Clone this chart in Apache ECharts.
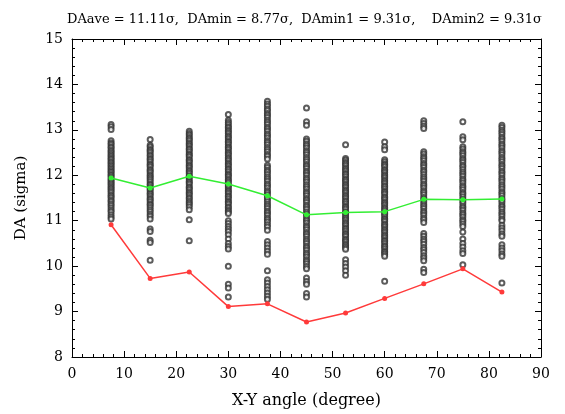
<!DOCTYPE html>
<html>
<head>
<meta charset="utf-8">
<script src="https://cdn.jsdelivr.net/npm/echarts@6/dist/echarts.min.js"></script>
<style>
  html, body { margin: 0; padding: 0; background: #fff; }
  #chart { width: 565px; height: 414px; }
</style>
</head>
<body>
<div id="chart"></div>
<script>
// X-Y angles (degrees) at which DA was sampled
const angles = [7.5, 15, 22.5, 30, 37.5, 45, 52.5, 60, 67.5, 75, 82.5];

// DA samples (sigma) at each angle
const da07_5 = [13.12, 13.07, 13.01, 12.76, 12.71, 12.68, 12.63, 12.6, 12.55, 12.52, 12.48, 12.44, 12.41, 12.37, 12.34, 12.3, 12.27, 12.23, 12.2, 12.16, 12.13, 12.09, 12.06, 12.02, 11.99, 11.95, 11.91, 11.88, 11.84, 11.81, 11.77, 11.73, 11.7, 11.66, 11.62, 11.57, 11.54, 11.5, 11.45, 11.42, 11.37, 11.33, 11.28, 11.23, 11.19, 11.13, 11.08, 11.04];
const da15 = [12.79, 12.66, 12.62, 12.57, 12.54, 12.5, 12.45, 12.42, 12.37, 12.34, 12.3, 12.25, 12.22, 12.18, 12.13, 12.1, 12.06, 12.01, 11.98, 11.94, 11.9, 11.86, 11.81, 11.78, 11.73, 11.7, 11.66, 11.61, 11.58, 11.54, 11.49, 11.46, 11.42, 11.37, 11.34, 11.29, 11.24, 11.2, 11.14, 11.1, 11.04, 10.82, 10.76, 10.57, 10.52, 10.13];
const da22_5 = [12.97, 12.92, 12.88, 12.83, 12.8, 12.76, 12.71, 12.68, 12.64, 12.59, 12.56, 12.52, 12.47, 12.44, 12.4, 12.35, 12.32, 12.28, 12.23, 12.2, 12.16, 12.11, 12.08, 12.04, 11.99, 11.96, 11.92, 11.87, 11.84, 11.8, 11.75, 11.72, 11.68, 11.63, 11.6, 11.56, 11.51, 11.48, 11.43, 11.39, 11.35, 11.3, 11.24, 11.02, 10.56];
const da30 = [13.34, 13.21, 13.16, 13.12, 13.07, 13.04, 12.99, 12.96, 12.92, 12.87, 12.84, 12.8, 12.75, 12.72, 12.68, 12.63, 12.6, 12.56, 12.51, 12.48, 12.44, 12.39, 12.36, 12.32, 12.27, 12.24, 12.2, 12.15, 12.12, 12.08, 12.03, 12.0, 11.96, 11.91, 11.88, 11.84, 11.79, 11.76, 11.72, 11.67, 11.64, 11.6, 11.55, 11.52, 11.48, 11.43, 11.4, 11.36, 11.31, 11.28, 11.23, 11.2, 11.16, 11.0, 10.94, 10.87, 10.82, 10.76, 10.69, 10.6, 10.5, 10.43, 10.38, 10.0, 9.6, 9.52, 9.32];
const da37_5 = [13.63, 13.57, 13.52, 13.46, 13.42, 13.36, 13.32, 13.27, 13.21, 13.17, 13.12, 13.06, 13.02, 12.97, 12.91, 12.87, 12.82, 12.76, 12.72, 12.67, 12.61, 12.57, 12.52, 12.46, 12.42, 12.36, 12.22, 12.17, 12.11, 12.07, 12.02, 11.96, 11.92, 11.87, 11.81, 11.77, 11.72, 11.66, 11.62, 11.57, 11.51, 11.47, 11.42, 11.36, 11.32, 11.27, 11.21, 11.17, 11.12, 11.06, 11.02, 10.97, 10.91, 10.86, 10.79, 10.54, 10.47, 10.4, 10.33, 10.26, 9.9, 9.7, 9.63, 9.55, 9.48, 9.41, 9.34, 9.27];
const da45 = [13.48, 13.18, 13.1, 12.8, 12.75, 12.69, 12.65, 12.6, 12.54, 12.5, 12.45, 12.39, 12.35, 12.3, 12.24, 12.2, 12.15, 12.09, 12.05, 12.0, 11.94, 11.9, 11.85, 11.79, 11.75, 11.7, 11.64, 11.6, 11.55, 11.49, 11.45, 11.4, 11.34, 11.3, 11.25, 11.19, 11.15, 11.1, 11.04, 11.0, 10.95, 10.89, 10.85, 10.8, 10.74, 10.7, 10.65, 10.59, 10.55, 10.5, 10.44, 10.4, 10.35, 10.29, 10.25, 10.2, 10.14, 10.1, 10.05, 9.99, 9.94, 9.74, 9.66, 9.6, 9.4, 9.32];
const da52_5 = [12.67, 12.37, 12.33, 12.28, 12.25, 12.21, 12.16, 12.13, 12.09, 12.04, 12.01, 11.97, 11.92, 11.89, 11.85, 11.8, 11.77, 11.73, 11.68, 11.65, 11.61, 11.56, 11.53, 11.49, 11.44, 11.41, 11.37, 11.32, 11.29, 11.25, 11.2, 11.17, 11.13, 11.08, 11.05, 11.01, 10.96, 10.93, 10.89, 10.84, 10.81, 10.77, 10.72, 10.69, 10.65, 10.6, 10.57, 10.53, 10.48, 10.45, 10.41, 10.37, 10.14, 10.06, 9.98, 9.9, 9.8];
const da60 = [12.73, 12.63, 12.56, 12.34, 12.3, 12.25, 12.22, 12.18, 12.13, 12.1, 12.06, 12.01, 11.98, 11.94, 11.89, 11.86, 11.82, 11.77, 11.74, 11.7, 11.65, 11.62, 11.58, 11.53, 11.5, 11.46, 11.41, 11.38, 11.34, 11.29, 11.26, 11.22, 11.17, 11.14, 11.1, 11.05, 11.02, 10.98, 10.93, 10.9, 10.86, 10.81, 10.78, 10.74, 10.69, 10.66, 10.62, 10.57, 10.54, 10.5, 10.45, 10.42, 10.38, 10.33, 10.3, 10.26, 10.22, 9.67];
const da67_5 = [13.2, 13.14, 13.08, 13.03, 12.52, 12.47, 12.41, 12.37, 12.32, 12.26, 12.22, 12.17, 12.11, 12.07, 12.02, 11.96, 11.92, 11.87, 11.81, 11.77, 11.72, 11.66, 11.62, 11.57, 11.51, 11.47, 11.42, 11.36, 11.32, 11.27, 11.21, 11.17, 11.12, 11.06, 11.02, 10.96, 10.72, 10.66, 10.59, 10.54, 10.48, 10.41, 10.36, 10.3, 10.23, 10.18, 10.12, 9.93, 9.86];
const da75 = [13.18, 12.85, 12.78, 12.63, 12.58, 12.52, 12.48, 12.43, 12.37, 12.33, 12.28, 12.22, 12.18, 12.13, 12.07, 12.03, 11.98, 11.92, 11.88, 11.83, 11.77, 11.73, 11.68, 11.62, 11.58, 11.53, 11.47, 11.43, 11.38, 11.32, 11.28, 11.23, 11.17, 11.13, 11.08, 11.02, 10.98, 10.93, 10.87, 10.75, 10.6, 10.5, 10.42, 10.34, 10.28, 10.03];
const da82_5 = [13.1, 13.05, 12.99, 12.95, 12.9, 12.84, 12.8, 12.75, 12.69, 12.65, 12.6, 12.54, 12.5, 12.45, 12.39, 12.35, 12.3, 12.24, 12.2, 12.15, 12.09, 12.05, 12.0, 11.94, 11.9, 11.85, 11.79, 11.75, 11.7, 11.64, 11.6, 11.55, 11.49, 11.45, 11.4, 11.34, 11.3, 11.25, 11.19, 11.15, 11.1, 11.04, 11.0, 10.9, 10.84, 10.78, 10.71, 10.66, 10.47, 10.4, 10.34, 10.27, 10.22, 9.63];

const samplesByAngle = [da07_5, da15, da22_5, da30, da37_5, da45, da52_5, da60, da67_5, da75, da82_5];

// Average and minimum DA per angle
const daAverage = [11.94, 11.72, 11.98, 11.81, 11.55, 11.13, 11.18, 11.2, 11.47, 11.46, 11.48];
const daMinimum = [10.91, 9.73, 9.87, 9.11, 9.17, 8.77, 8.97, 9.29, 9.61, 9.94, 9.43];

const titleText = 'DAave = 11.11\u03c3,  DAmin = 8.77\u03c3,  DAmin1 = 9.31\u03c3,    DAmin2 = 9.31\u03c3';

const scatterPoints = [];
angles.forEach((a, i) => samplesByAngle[i].forEach(v => scatterPoints.push([a, v])));
const avgPoints = angles.map((a, i) => [a, daAverage[i]]);
const minPoints = angles.map((a, i) => [a, daMinimum[i]]);

const FONT = '"DejaVu Serif", serif';

function frameAxis(extra) {
  return Object.assign({
    type: 'value',
    axisLine: { show: true, onZero: false, lineStyle: { color: '#000', width: 1 } },
    axisTick: { show: true, inside: true, length: 6, lineStyle: { color: '#000' } },
    minorTick: { show: true, splitNumber: 5, length: 3, lineStyle: { color: '#000' } },
    splitLine: { show: false },
    axisLabel: { show: false }
  }, extra);
}

const chart = echarts.init(document.getElementById('chart'), null, { renderer: 'canvas' });
chart.setOption({
  animation: false,
  backgroundColor: '#fff',
  title: {
    text: titleText,
    left: 62,
    top: 8,
    textStyle: { fontFamily: FONT, fontSize: 13, fontWeight: 'normal', color: '#000' }
  },
  grid: { left: 72, right: 24, top: 39, bottom: 52 },
  xAxis: [
    frameAxis({
      position: 'bottom', min: 0, max: 90, interval: 10,
      name: 'X-Y angle (degree)', nameLocation: 'middle', nameGap: 36,
      nameTextStyle: { fontFamily: FONT, fontSize: 16, color: '#000' },
      axisLabel: { show: true, margin: 10, fontFamily: FONT, fontSize: 14, color: '#000' }
    }),
    frameAxis({ position: 'top', min: 0, max: 90, interval: 10 })
  ],
  yAxis: [
    frameAxis({
      position: 'left', min: 8, max: 15, interval: 1,
      name: 'DA (sigma)', nameLocation: 'middle', nameGap: 43, nameRotate: 90,
      nameTextStyle: { fontFamily: FONT, fontSize: 15, color: '#000' },
      axisLabel: { show: true, margin: 9, fontFamily: FONT, fontSize: 14, color: '#000' }
    }),
    frameAxis({ position: 'right', min: 8, max: 15, interval: 1 })
  ],
  series: [
    {
      type: 'scatter',
      data: scatterPoints,
      symbol: 'emptyCircle',
      symbolSize: 5,
      itemStyle: { color: '#333', borderColor: '#333', borderWidth: 0.8 },
      silent: true,
      z: 2
    },
    {
      type: 'line',
      data: avgPoints,
      symbol: 'circle',
      symbolSize: 5,
      lineStyle: { color: '#33ee33', width: 1.5 },
      itemStyle: { color: '#33ee33' },
      z: 3
    },
    {
      type: 'line',
      data: minPoints,
      symbol: 'circle',
      symbolSize: 5,
      lineStyle: { color: '#ff3a3a', width: 1.5 },
      itemStyle: { color: '#ff3a3a' },
      z: 3
    }
  ]
});
</script>
</body>
</html>
